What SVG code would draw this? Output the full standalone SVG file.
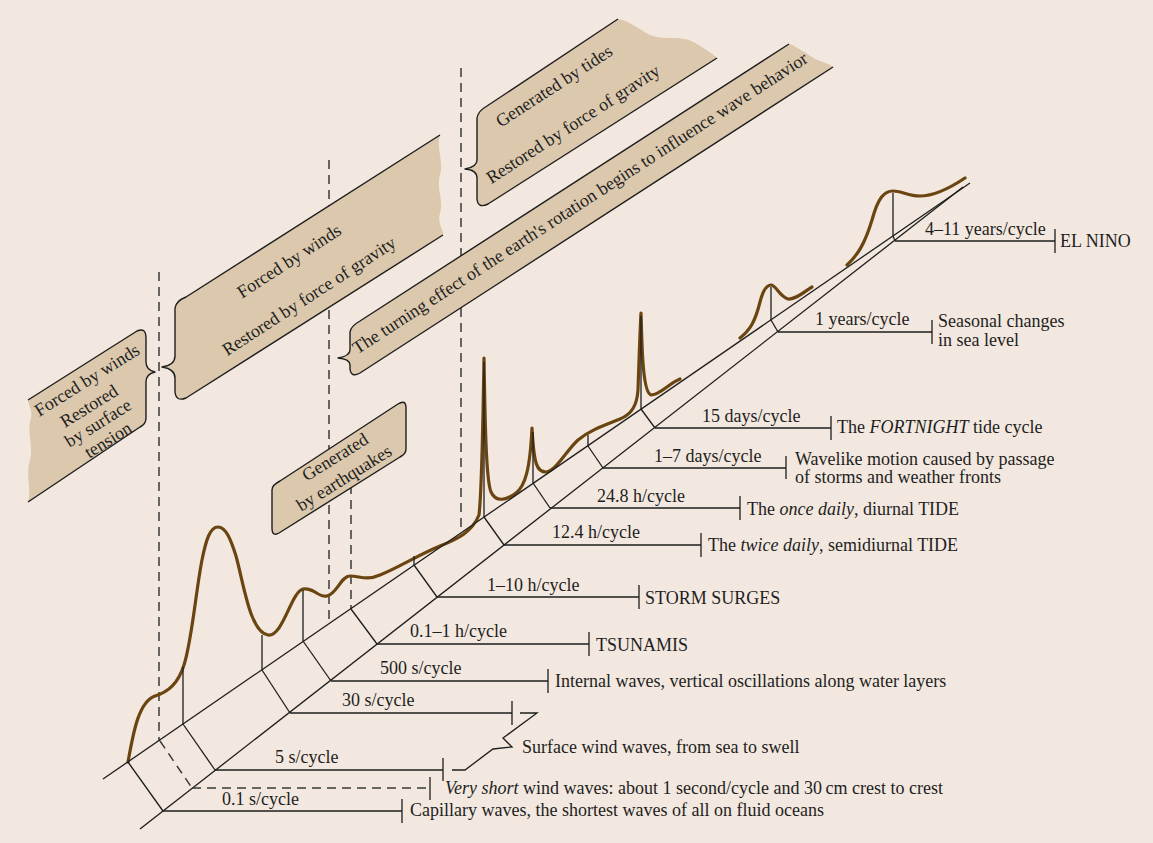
<svg xmlns="http://www.w3.org/2000/svg" width="1153" height="843" viewBox="0 0 1153 843">
<style>
text{font-family:"Liberation Serif","Times New Roman",serif;font-size:18px;fill:#1e1e1e}
.ln{stroke:#1e1e1e;stroke-width:1.3;fill:none}
.dash{stroke:#3a3a3a;stroke-width:1.5;fill:none;stroke-dasharray:9 6}
.bf{fill:#dbc8ad;stroke:none}
.bfs{fill:#dbc8ad;stroke:#1e1e1e;stroke-width:1.4;stroke-linejoin:round}
.bs{fill:none;stroke:#1e1e1e;stroke-width:1.4;stroke-linejoin:round}
.cv{fill:none;stroke:#6b4511;stroke-width:3.2;stroke-linecap:round;stroke-linejoin:round}
.it{font-style:italic}
</style>
<rect x="0" y="0" width="1153" height="843" fill="#f2e8df"/>

<g id="guides">
<line class="dash" x1="159" y1="272" x2="159" y2="741"/>
<line class="dash" x1="329" y1="160" x2="329" y2="624"/>
<line class="dash" x1="351" y1="470" x2="351" y2="609"/>
<line class="dash" x1="461" y1="68" x2="461" y2="532"/>
</g>

<g id="banner-capillary">
<path class="bf" d="M28,400 L137,331 Q146,327 146,338 L146,362 Q146,370 155,372 Q146,374 146,382 L146,418 Q146,424 140,427 L28,502 C32,488 25,475 30,460 C34,445 26,432 31,418 C33,410 28,405 28,400 Z"/>
<path class="bs" d="M28,400 L137,331 Q146,327 146,338 L146,362 Q146,370 155,372 Q146,374 146,382 L146,418 Q146,424 140,427 L28,502"/>
<text transform="translate(87,380) rotate(-32)" text-anchor="middle" y="6">Forced by winds</text>
<text transform="translate(89,406) rotate(-32)" text-anchor="middle" y="6">Restored</text>
<text transform="translate(98,423) rotate(-32)" text-anchor="middle" y="6">by surface</text>
<text transform="translate(108,440) rotate(-32)" text-anchor="middle" y="6">tension</text>
</g>

<g id="banner-wind">
<path class="bf" d="M186,297 L440,135 C436,150 444,160 440,175 C436,190 444,200 440,213 C437,224 444,230 443,235 L186,398 Q176,402 175,392 L175,378 Q175,369 162,367 Q175,365 175,356 L175,308 Q176,301 186,297 Z"/>
<path class="bs" d="M443,235 L186,398 Q176,402 175,392 L175,378 Q175,369 162,367 Q175,365 175,356 L175,308 Q176,301 186,297 L440,135"/>
<text transform="translate(289,261) rotate(-33)" text-anchor="middle" y="6">Forced by winds</text>
<text transform="translate(309,296) rotate(-33)" text-anchor="middle" y="6">Restored by force of gravity</text>
</g>

<g id="banner-coriolis">
<path class="bf" d="M360,321 L789,44 C796,46 800,50 806,53 C812,57 815,59 820,61 C825,63 830,64 833,67 L360,373 Q351,378 350,369 L350,365 Q350,359 338,358 Q350,356 350,350 L350,332 Q351,326 360,321 Z"/>
<path class="bs" d="M833,67 L360,373 Q351,378 350,369 L350,365 Q350,359 338,358 Q350,356 350,350 L350,332 Q351,326 360,321 L789,44"/>
<text transform="translate(580,203) rotate(-33)" text-anchor="middle" y="6">The turning effect of the earth's rotation begins to influence wave behavior</text>
</g>

<g id="banner-tides">
<path class="bf" d="M487,106 L618,19 C628,20 640,30 650,35 C658,38 665,38 675,38 C688,38 694,42 700,46 C706,50 712,53 717,58 L488,204 Q478,209 477,199 L477,178 Q477,170 465,169 Q477,167 477,160 L477,118 Q478,111 487,106 Z"/>
<path class="bs" d="M717,58 L488,204 Q478,209 477,199 L477,178 Q477,170 465,169 Q477,167 477,160 L477,118 Q478,111 487,106 L618,19"/>
<text transform="translate(554,86) rotate(-33)" text-anchor="middle" y="6">Generated by tides</text>
<text transform="translate(573,124) rotate(-33)" text-anchor="middle" y="6">Restored by force of gravity</text>
</g>

<g id="banner-earthquakes">
<path class="bfs" d="M280,481 L398,404 Q406,399 406,408 L406,449 Q406,454 400,457 L279,533 Q272,537 272,528 L272,490 Q272,485 280,481 Z"/>
<text transform="translate(335,457) rotate(-32)" text-anchor="middle" y="6">Generated</text>
<text transform="translate(344,478) rotate(-32)" text-anchor="middle" y="6">by earthquakes</text>
</g>

<g id="spectrum-curve">
<path class="cv" d="M128,762 C133,735 138,702 155,696 C168,692 178,684 184,665 C192,640 196,590 202,560 C206,540 210,527 218,527 C226,527 231,540 236,556 C244,585 250,632 268,635 C283,637 291,592 303,589 C314,587 318,598 327,596 C337,594 341,576 350,576 C360,576 366,581 380,575 C398,568 418,555 440,546 C458,539 472,532 479,515 C482,490 483,420 484,358 C485,420 486,480 491,492 C496,503 507,500 516,493 C525,486 530,470 532,428 C534,465 537,472 546,472 C556,471 566,451 578,440 C590,430 605,425 620,419 C632,414 637,405 638,390 C639,360 640,330 641,313 C642,340 642,392 651,395 C660,395 668,384 680,379"/>
<path class="cv" d="M740,338 C750,330 755,322 760,302 C763,290 767,285 771,285 C776,285 779,296 788,299 C796,300 805,291 812,287"/>
<path class="cv" d="M847,265 C858,255 865,243 872,220 C878,198 884,191 893,191 C902,191 908,196 920,196 C935,196 950,188 965,178"/>
</g>

<g id="connectors">
<line class="ln" x1="103" y1="779" x2="970" y2="183"/>
<line class="ln" x1="140" y1="829" x2="963" y2="187"/>
<line class="ln" x1="128" y1="762" x2="163" y2="811"/>
<line class="dash" x1="160" y1="741" x2="192" y2="788"/>
<line class="ln" x1="183" y1="724" x2="215" y2="770"/>
<line class="ln" x1="262" y1="670" x2="290" y2="713"/>
<line class="ln" x1="303" y1="641" x2="331" y2="681"/>
<line class="ln" x1="351" y1="609" x2="377" y2="644"/>
<line class="ln" x1="414" y1="565" x2="437" y2="597"/>
<line class="ln" x1="484" y1="517" x2="504" y2="545"/>
<line class="ln" x1="533" y1="483" x2="550" y2="508"/>
<line class="ln" x1="588" y1="446" x2="603" y2="468"/>
<line class="ln" x1="641" y1="409" x2="655" y2="428"/>
<line class="ln" x1="771" y1="320" x2="778" y2="332"/>
<line class="ln" x1="893" y1="236" x2="895" y2="241"/>
<line class="ln" x1="183" y1="724" x2="183" y2="667"/>
<line class="ln" x1="262" y1="670" x2="262" y2="635"/>
<line class="ln" x1="303" y1="641" x2="303" y2="590"/>
<line class="ln" x1="414" y1="565" x2="414" y2="556"/>
<line class="ln" x1="484" y1="517" x2="484" y2="362"/>
<line class="ln" x1="533" y1="483" x2="533" y2="432"/>
<line class="ln" x1="588" y1="446" x2="588" y2="435"/>
<line class="ln" x1="641" y1="409" x2="641" y2="316"/>
<line class="ln" x1="771" y1="320" x2="771" y2="287"/>
<line class="ln" x1="893" y1="236" x2="893" y2="193"/>
<path class="ln" d="M163,811 H402 M402,799 V823"/>
<path class="dash" d="M192,788 H430"/>
<path class="ln" d="M430,777 V800"/>
<path class="ln" d="M215,770 H443 M443,758 V781"/>
<path class="ln" d="M290,713 H512 M512,701 V725"/>
<path class="ln" d="M331,681 H548 M548,669 V693"/>
<path class="ln" d="M377,644 H589 M589,632 V656"/>
<path class="ln" d="M437,597 H639 M639,585 V609"/>
<path class="ln" d="M504,545 H701 M701,533 V557"/>
<path class="ln" d="M550,508 H740 M740,496 V520"/>
<path class="ln" d="M603,468 H786 M786,456 V479"/>
<path class="ln" d="M655,428 H831 M831,416 V440"/>
<path class="ln" d="M778,332 H932 M932,320 V344"/>
<path class="ln" d="M895,241 H1055 M1055,229 V253"/>
<path class="ln" d="M520,713 H537 L503,738 L512,747 L493,749 L465,770 H452"/>
</g>

<g id="label-capillary">
<text x="222" y="805">0.1 s/cycle</text>
<text x="410" y="816">Capillary waves, the shortest waves of all on fluid oceans</text>
</g>
<g id="label-veryshort">
<text x="445" y="794"><tspan class="it">Very short</tspan> wind waves: about 1 second/cycle and 30&#8201;cm crest to crest</text>
</g>
<g id="label-5s">
<text x="275" y="763">5 s/cycle</text>
</g>
<g id="label-30s">
<text x="342" y="706">30 s/cycle</text>
<text x="522" y="753">Surface wind waves, from sea to swell</text>
</g>
<g id="label-500s">
<text x="380" y="674">500 s/cycle</text>
<text x="555" y="687">Internal waves, vertical oscillations along water layers</text>
</g>
<g id="label-tsunami">
<text x="410" y="637">0.1–1 h/cycle</text>
<text x="596" y="651">TSUNAMIS</text>
</g>
<g id="label-surge">
<text x="487" y="591">1–10 h/cycle</text>
<text x="645" y="604">STORM SURGES</text>
</g>
<g id="label-semidiurnal">
<text x="552" y="538">12.4 h/cycle</text>
<text x="708" y="551">The <tspan class="it">twice daily</tspan>, semidiurnal TIDE</text>
</g>
<g id="label-diurnal">
<text x="597" y="502">24.8 h/cycle</text>
<text x="747" y="515">The <tspan class="it">once daily</tspan>, diurnal TIDE</text>
</g>
<g id="label-weather">
<text x="654" y="462">1–7 days/cycle</text>
<text x="795" y="465">Wavelike motion caused by passage</text>
<text x="795" y="483">of storms and weather fronts</text>
</g>
<g id="label-fortnight">
<text x="702" y="422">15 days/cycle</text>
<text x="837" y="433">The <tspan class="it">FORTNIGHT</tspan> tide cycle</text>
</g>
<g id="label-seasonal">
<text x="815" y="325">1 years/cycle</text>
<text x="938" y="327">Seasonal changes</text>
<text x="938" y="346">in sea level</text>
</g>
<g id="label-elnino">
<text x="925" y="235">4–11 years/cycle</text>
<text x="1060" y="247">EL NINO</text>
</g>
</svg>
